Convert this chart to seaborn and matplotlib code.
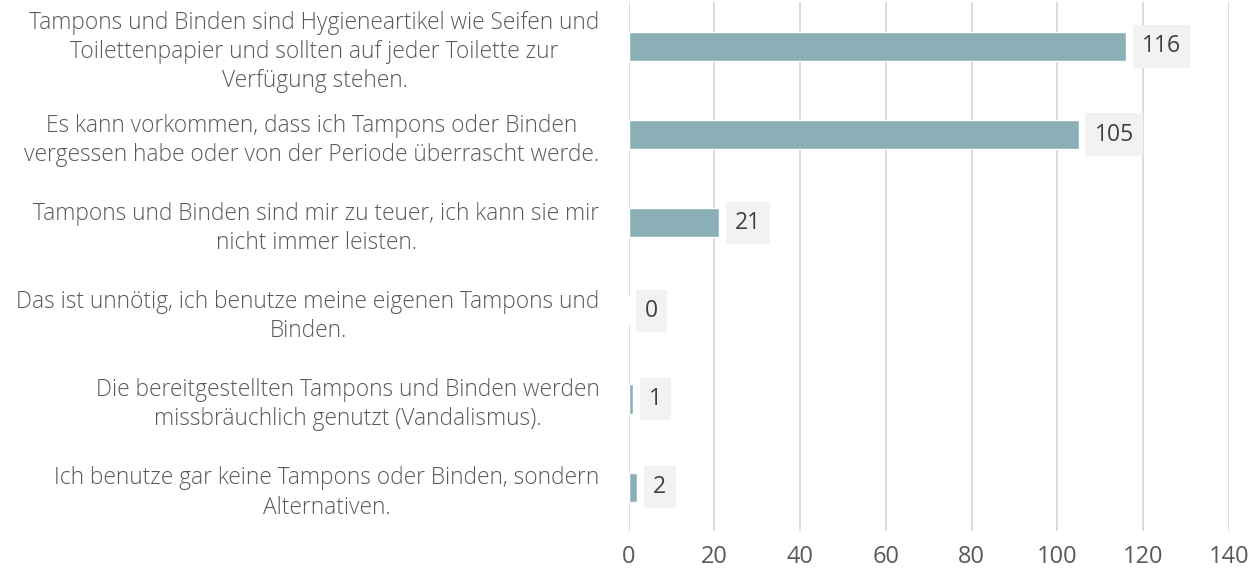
import matplotlib
matplotlib.use("Agg")
import matplotlib.pyplot as plt
import seaborn as sns
import pandas as pd

# Antworten (Zeilenumbrüche wie im Original)
answers = [
    "Tampons und Binden sind Hygieneartikel wie Seifen und\nToilettenpapier und sollten auf jeder Toilette zur\nVerfügung stehen.",
    "Es kann vorkommen, dass ich Tampons oder Binden\nvergessen habe oder von der Periode überrascht werde.",
    "Tampons und Binden sind mir zu teuer, ich kann sie mir\nnicht immer leisten.",
    "Das ist unnötig, ich benutze meine eigenen Tampons und\nBinden.",
    "Die bereitgestellten Tampons und Binden werden\nmissbräuchlich genutzt (Vandalismus).",
    "Ich benutze gar keine Tampons oder Binden, sondern\nAlternativen.",
]
counts = [116, 105, 21, 0, 1, 2]
x_ticks = [0, 20, 40, 60, 80, 100, 120, 140]

df = pd.DataFrame({"Antwort": answers, "Anzahl": counts})

sns.set_style("white")
plt.rcParams["font.family"] = ["Open Sans", "DejaVu Sans"]

fig = plt.figure(figsize=(12.55, 5.7), dpi=100)
ax = fig.add_axes([0.501, 0.068, 0.478, 0.928])

sns.barplot(data=df, y="Antwort", x="Anzahl", color="#8AAFB7",
            width=0.33, saturation=1, ax=ax, zorder=3)

ax.set_xlim(0, 140)
ax.set_xticks(x_ticks)
ax.grid(axis="x", color="#d9d9d9", lw=1.3, zorder=0)
ax.set_xlabel("")
ax.set_ylabel("")
for s in ax.spines.values():
    s.set_visible(False)
ax.tick_params(axis="x", length=0, labelsize=17, colors="#595959", pad=10)
ax.tick_params(axis="y", length=0, labelsize=16.4, colors="#595959", pad=21)
for lab in ax.get_yticklabels():
    lab.set_multialignment("center")
    lab.set_linespacing(1.3)
    lab.set_fontweight("light")

for i, v in enumerate(counts):
    ax.annotate(str(v), xy=(v, i), xytext=(11.5, 0), textcoords="offset points",
                ha="left", va="center", fontsize=16.5, color="#404040",
                bbox=dict(boxstyle="square,pad=0.4", fc="#f2f2f2", ec="none"))

fig.savefig("out.png", dpi=100)
